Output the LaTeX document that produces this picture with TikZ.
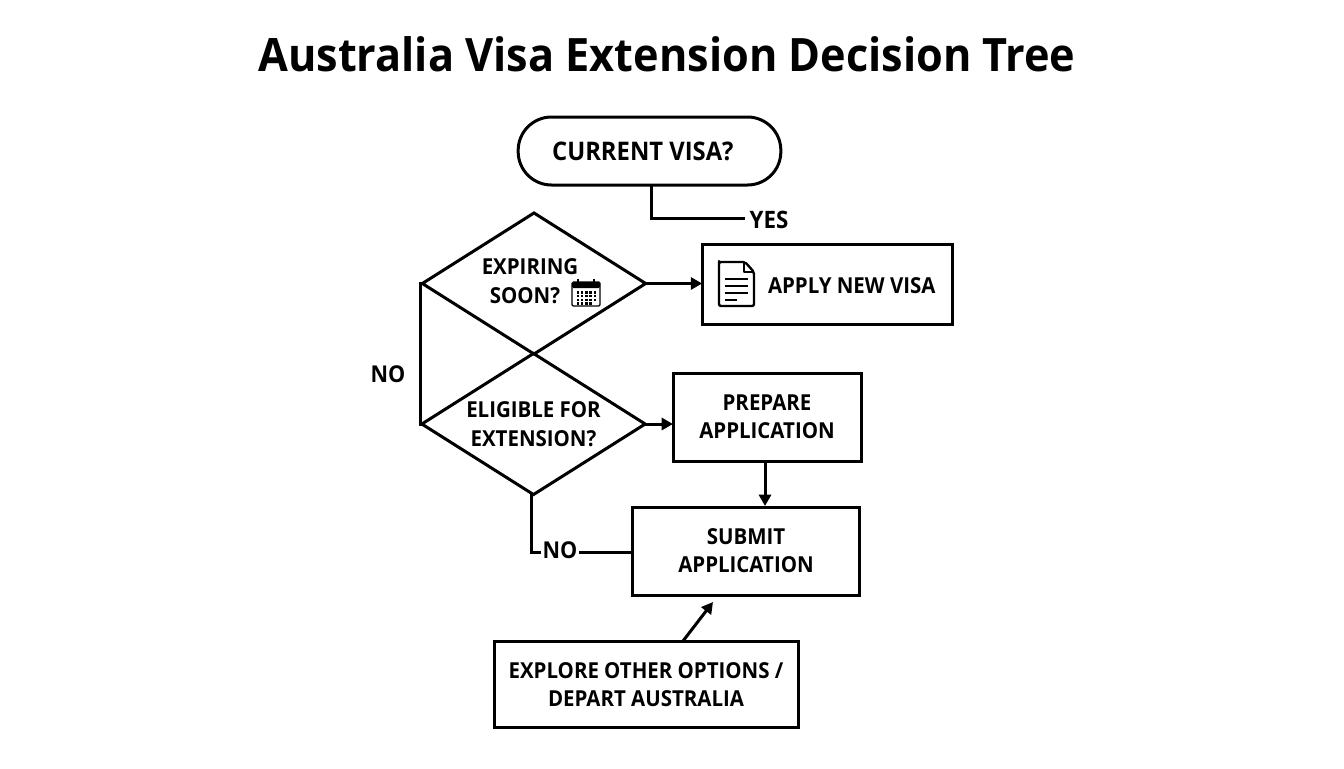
\documentclass[tikz,border=0pt]{standalone}
\usepackage{fontspec}
\setmainfont{Noto Sans}
\newfontfamily\lblfont[FakeStretch=0.93]{Open Sans}
\newfontfamily\ttlfont[FakeStretch=0.94]{Open Sans}
\usetikzlibrary{shapes.geometric,arrows.meta,calc}
\tikzset{
  every node/.style={inner sep=0pt,outer sep=0pt},
  lbl/.style={font=\lblfont\bfseries\fontsize{16.5}{21}\selectfont,align=center,text=black},
  lblbig/.style={font=\lblfont\bfseries\fontsize{#1}{21}\selectfont,align=center,text=black},
  box/.style={draw=black,line width=2.25pt,lbl,fill=white},
  dia/.style={draw=black,line width=2.25pt,lbl,diamond,aspect=1.582,minimum width=167.5pt,minimum height=105.8pt},
  conn/.style={draw=black,line width=2.25pt},
  arr/.style={conn,-{Triangle[length=8.5pt,width=9pt]}},
}
\begin{document}
\begin{tikzpicture}[x=0.75pt,y=-0.75pt]
\useasboundingbox (0,0) rectangle (1344,768);
\node[font=\ttlfont\bfseries\fontsize{34.5}{40}\selectfont] (title) at (667,54) {Australia Visa Extension Decision Tree};
\node[box,lblbig=19.2,rounded corners=25pt,minimum width=197pt,minimum height=51pt] (cv) at (649.5,151) {\hspace*{-5pt}CURRENT VISA?\hspace*{5pt}};
\node[dia] (d1) at (534,283.5) {};
\node[dia] (d2) at (533.5,424) {\raisebox{1pt}{ELIGIBLE FOR}\\EXTENSION?};
\node[lbl] (t1) at (530,266.5) {EXPIRING};
\node[lbl] (t2) at (525,295.5) {SOON?};
\node[box,minimum width=188pt,minimum height=60.5pt] (apply) at (827.5,284.5) {};
\node[lbl,anchor=west] (t3) at (768,285.5) {APPLY NEW VISA};
\node[box,minimum width=141pt,minimum height=66pt] (prep) at (767,417) {PREPARE\\APPLICATION};
\node[box,minimum width=170pt,minimum height=66pt] (sub) at (746,551) {SUBMIT\\APPLICATION};
\node[box,minimum width=228pt,minimum height=65pt] (exp) at (646,684.5) {EXPLORE OTHER OPTIONS /\\DEPART AUSTRALIA};
\node[lblbig=18] (yes) at (769,220) {YES};
\node[lblbig=17.4] (no1) at (388,374) {NO};
\node[lblbig=17.4] (no2) at (560,550.5) {NO};
\coordinate (yesend) at (745,218);
\coordinate (no2end) at (541,552);
\coordinate (no2start) at (579,552);
\coordinate (subl) at (632,552);
\coordinate (exptop) at (683,641);
\coordinate (subbelow) at (713,602);
\coordinate (cvs) at (651,185);
\coordinate (prepout) at (765,461);
\coordinate (subin) at (765,506);
% connectors
\draw[conn,line join=miter] (cvs) |- (yesend);
\draw[arr] (d1.east) -- (d1.east -| apply.west);
\draw[arr] (d2.east) -- (d2.east -| prep.west);
\draw[arr] (prepout) -- (subin);
\draw[conn] (d1.west) -- ++(-2,0) -- ++(0,140.5) -- (d2.west);
\draw[conn] (d2.south) -- ++(-2,0) |- (no2end);
\draw[conn] (no2start) -- (subl);
\draw[arr] (exptop) -- (subbelow);
% calendar icon
\begin{scope}[shift={(572,279)}]
  \draw[black,line width=0.9pt,rounded corners=1pt] (0,3) rectangle (28,27);
  \fill[black,rounded corners=1pt] (0,3) rectangle (28,9);
  \draw[black,line width=1.1pt] (6,0) -- (6,4) (22,0) -- (22,4);
  \foreach \r in {0,1,2,3} \foreach \c in {0,1,2,3,4} {
    \ifnum\r=3 \ifnum\c=4 \else \fill[black] (4.5+\c*4.3,12+\r*3.8) rectangle ++(2.6,2.6); \fi
    \else \fill[black] (4.5+\c*4.3,12+\r*3.8) rectangle ++(2.6,2.6); \fi
  }
\end{scope}
% document icon
\begin{scope}[shift={(719,261)}]
  \draw[black,line width=1.8pt,line join=round,rounded corners=1.5pt] (0,2) -- (0,45) -- (35,45) -- (35,11) -- (26,1) -- (0,1) -- cycle;
  \draw[black,line width=1.3pt,line join=round] (25,1) -- (25,11) -- (35,11);
  \draw[black,line width=1.7pt] (6,18) -- (29,18) (6,25) -- (29,25) (6,32) -- (29,32) (6,39) -- (18,39);
\end{scope}
\end{tikzpicture}
\end{document}
